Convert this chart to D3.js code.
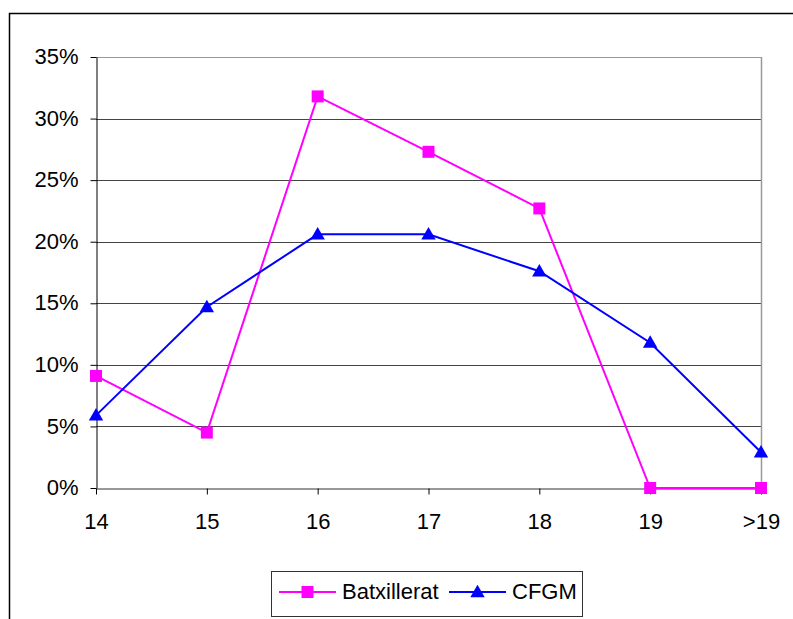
<!DOCTYPE html>
<html><head><meta charset="utf-8">
<script src="https://cdn.jsdelivr.net/npm/d3@7"></script>
<style>body{margin:0;background:#fff}svg{display:block;font-family:"Liberation Sans",Arial,sans-serif}</style>
</head><body><svg id="c" width="793" height="619"></svg>
<script>
const categories = ["14","15","16","17","18","19",">19"];
const batxillerat = [0.091, 0.045, 0.318, 0.273, 0.227, 0, 0];
const cfgm = [0.059, 0.147, 0.206, 0.206, 0.176, 0.118, 0.029];
const yTicks = [0, 0.05, 0.10, 0.15, 0.20, 0.25, 0.30, 0.35];
const seriesNames = ["Batxillerat", "CFGM"];
const colors = ["#ff00ff", "#0000ff"];

const svg = d3.select("#c");
// outer frame
svg.append("rect").attr("x",9.5).attr("y",13.5).attr("width",900).attr("height",700)
  .attr("fill","none").attr("stroke","#000").attr("stroke-width",1.5);

const L=96, R=761, T=57, B=488;
const x = d3.scalePoint().domain(categories).range([L,R]);
const y = d3.scaleLinear().domain([0,0.35]).range([B,T]);

// gridlines
svg.append("g").selectAll("line").data(yTicks.filter(d=>d>0)).join("line")
  .attr("x1",L).attr("x2",R).attr("y1",d=>Math.round(y(d))+0.5).attr("y2",d=>Math.round(y(d))+0.5)
  .attr("stroke",d=>d===0.35?"#999":"#444").attr("stroke-width",1);
// plot border right
svg.append("line").attr("x1",R+0.5).attr("x2",R+0.5).attr("y1",T).attr("y2",B).attr("stroke","#999").attr("stroke-width",1.5);

// y axis
const yAxis = svg.append("g").attr("transform",`translate(${L+0.5},0)`)
  .call(d3.axisLeft(y).tickValues(yTicks).tickFormat(d=>Math.round(d*100)+"%").tickSize(6).tickSizeOuter(0));
yAxis.attr("font-size",22).attr("font-family","Liberation Sans, Arial, sans-serif");
yAxis.select(".domain").attr("stroke","#000");
yAxis.selectAll("text").attr("fill","#000").attr("x",-18).attr("dy","0.3em");
// x axis
const xAxis = svg.append("g").attr("transform",`translate(0,${B+0.5})`)
  .call(d3.axisBottom(x).tickSize(6).tickSizeOuter(0));
xAxis.attr("font-size",22).attr("font-family","Liberation Sans, Arial, sans-serif");
xAxis.select(".domain").attr("stroke","#333");
xAxis.selectAll("text").attr("fill","#000").attr("y",25);

const line = d3.line().x((d,i)=>x(categories[i])).y(d=>y(d));
const data = [batxillerat, cfgm];
const sq = d3.symbol().type(d3.symbolSquare).size(144);
const tri = d3.symbol().type(d3.symbolTriangle).size(90);
data.forEach((s,k)=>{
  svg.append("path").datum(s).attr("d",line).attr("fill","none").attr("stroke",colors[k]).attr("stroke-width",2);
});
data.forEach((s,k)=>{
  svg.append("g").selectAll("path").data(s).join("path")
    .attr("d",k===0?sq:tri)
    .attr("transform",(d,i)=>`translate(${x(categories[i])},${y(d)+(k===1?1:0)})`)
    .attr("fill",colors[k]);
});

// legend
const lg = svg.append("g");
lg.append("rect").attr("x",271.5).attr("y",571.5).attr("width",311).attr("height",45)
  .attr("fill","#fff").attr("stroke","#333").attr("stroke-width",1);
const items = [{x0:279,x1:336,tx:342},{x0:449,x1:506,tx:512}];
items.forEach((it,k)=>{
  const cy = 592;
  lg.append("line").attr("x1",it.x0).attr("x2",it.x1).attr("y1",cy).attr("y2",cy).attr("stroke",colors[k]).attr("stroke-width",2);
  lg.append("path").attr("d",k===0?sq:tri).attr("transform",`translate(${(it.x0+it.x1)/2},${cy+(k===1?1:0)})`).attr("fill",colors[k]);
  lg.append("text").attr("x",it.tx).attr("y",cy).attr("dy","0.32em").attr("font-size",22).attr("fill","#000").text(seriesNames[k]);
});
</script></body></html>
